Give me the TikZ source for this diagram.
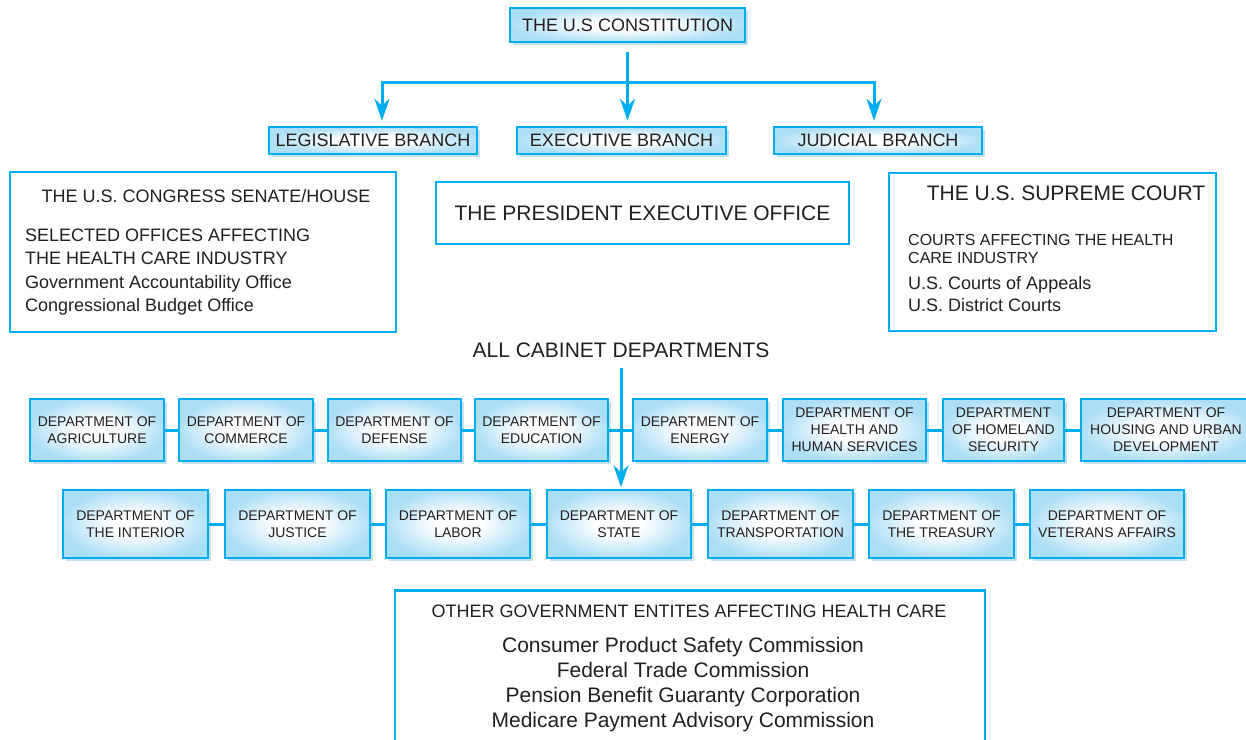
\documentclass[tikz,border=0pt]{standalone}
\usepackage{fontspec}
\setmainfont{Liberation Sans}
\usepackage{tikz}
\usepackage{xcolor}
\usetikzlibrary{arrows.meta,shadows}
\definecolor{govcyan}{RGB}{0,174,239}
\definecolor{govfill}{RGB}{172,222,245}
\definecolor{govshadow}{RGB}{200,224,238}
\definecolor{govtext}{RGB}{35,31,32}
\pgfdeclareradialshading{govglow}{\pgfpoint{0bp}{0bp}}{color(0bp)=(white); color(8bp)=(white); color(26bp)=(govfill); color(40bp)=(govfill)}
\newcommand{\deptsize}{\fontsize{14}{17}\selectfont}
\newcommand{\courtsize}{\fontsize{16}{18}\selectfont}
\newcommand{\midsize}{\fontsize{18}{23}\selectfont}
\newcommand{\bigsize}{\fontsize{21}{25}\selectfont}

\begin{document}
\begin{tikzpicture}[
    x=1pt,y=-1pt,
    text=govtext,
    dept/.style={rectangle,draw=govcyan,line width=2.5pt,shade,shading=govglow,
      drop shadow={shadow xshift=3pt,shadow yshift=-3pt,fill=govshadow,opacity=1},
      minimum height=62pt,inner sep=2pt,align=center,font=\deptsize},
    branch/.style={dept,minimum height=27pt,inner sep=1pt,font=\midsize},
    panel/.style={rectangle,draw=govcyan,line width=2.5pt,fill=white},
    txt/.style={inner sep=0pt,anchor=base west},
    txtc/.style={inner sep=0pt,anchor=base},
    link/.style={draw=govcyan,line width=3pt},
    arrow/.style={link,-{Stealth[length=22pt,width=15pt,inset=7pt]}}
  ]
    \useasboundingbox (0,0) rectangle (1246,739);

    \node[dept,minimum width=235pt,minimum height=34pt,font=\midsize] (const) at (627.5,25) {THE U.S CONSTITUTION};
    \node[branch,minimum width=208pt] (leg) at (373,140.5) {LEGISLATIVE BRANCH};
    \node[branch,minimum width=209pt] (exe) at (621.5,140.5) {EXECUTIVE BRANCH};
    \node[branch,minimum width=208pt] (jud) at (878,140.5) {JUDICIAL BRANCH};
    \coordinate (split) at (627.5,82);

    \node[panel,minimum width=386pt,minimum height=160pt] (congress) at (203,252) {};
    \node[txtc,font=\midsize] (congtitle) at (206,202) {THE U.S. CONGRESS SENATE/HOUSE};
    \node[txt,font=\midsize] (conga) at (25,241) {SELECTED OFFICES AFFECTING};
    \node[txt,font=\midsize] (congb) at (25,264) {THE HEALTH CARE INDUSTRY};
    \node[txt,font=\midsize] (congc) at (25,288) {Government Accountability Office};
    \node[txt,font=\midsize] (congd) at (25,311) {Congressional Budget Office};

    \node[panel,minimum width=413pt,minimum height=62pt,font=\bigsize] (pres) at (642.5,213) {THE PRESIDENT EXECUTIVE OFFICE};

    \node[panel,minimum width=327pt,minimum height=158pt] (court) at (1052.5,252) {};
    \node[txtc,font=\bigsize] (courttitle) at (1066,200) {THE U.S. SUPREME COURT};
    \node[txt,font=\courtsize] (courta) at (908,245) {COURTS AFFECTING THE HEALTH};
    \node[txt,font=\courtsize] (courtb) at (908,263) {CARE INDUSTRY};
    \node[txt,font=\midsize] (courtc) at (908,289) {U.S. Courts of Appeals};
    \node[txt,font=\midsize] (courtd) at (908,311) {U.S. District Courts};

    \node[txtc,font=\bigsize] (cabinet) at (621,357) {ALL CABINET DEPARTMENTS};

    \node[dept,minimum width=134pt] (agri) at (97,430) {DEPARTMENT OF\\AGRICULTURE};
    \node[dept,minimum width=134pt] (comm) at (246,430) {DEPARTMENT OF\\COMMERCE};
    \node[dept,minimum width=133pt] (defense) at (394.5,430) {DEPARTMENT OF\\DEFENSE};
    \node[dept,minimum width=133pt] (edu) at (541.5,430) {DEPARTMENT OF\\EDUCATION};
    \node[dept,minimum width=134pt] (energy) at (700,430) {DEPARTMENT OF\\ENERGY};
    \node[dept,minimum width=143pt] (hhs) at (854.5,430) {DEPARTMENT OF\\HEALTH AND\\HUMAN SERVICES};
    \node[dept,minimum width=121pt] (homeland) at (1003.5,430) {DEPARTMENT\\OF HOMELAND\\SECURITY};
    \node[dept,minimum width=170pt] (housing) at (1166,430) {DEPARTMENT OF\\HOUSING AND URBAN\\DEVELOPMENT};

    \node[dept,minimum width=145pt,minimum height=68pt] (interior) at (135.5,524) {DEPARTMENT OF\\THE INTERIOR};
    \node[dept,minimum width=145pt,minimum height=68pt] (justice) at (297.5,524) {DEPARTMENT OF\\JUSTICE};
    \node[dept,minimum width=144pt,minimum height=68pt] (labor) at (458,524) {DEPARTMENT OF\\LABOR};
    \node[dept,minimum width=144pt,minimum height=68pt] (state) at (619,524) {DEPARTMENT OF\\STATE};
    \node[dept,minimum width=145pt,minimum height=68pt] (transport) at (780.5,524) {DEPARTMENT OF\\TRANSPORTATION};
    \node[dept,minimum width=145pt,minimum height=68pt] (treasury) at (941.5,524) {DEPARTMENT OF\\THE TREASURY};
    \node[dept,minimum width=154pt,minimum height=68pt] (veterans) at (1107,524) {DEPARTMENT OF\\VETERANS AFFAIRS};

    \node[panel,minimum width=590pt,minimum height=160pt,anchor=north] (other) at (690,589) {};
    \node[txtc,font=\midsize] (othertitle) at (689,617) {OTHER GOVERNMENT ENTITES AFFECTING HEALTH CARE};
    \node[txtc,font=\bigsize] (cpsc) at (683,652) {Consumer Product Safety Commission};
    \node[txtc,font=\bigsize] (ftc) at (683,677) {Federal Trade Commission};
    \node[txtc,font=\bigsize] (pbgc) at (683,702) {Pension Benefit Guaranty Corporation};
    \node[txtc,font=\bigsize] (medpac) at (683,727) {Medicare Payment Advisory Commission};

    \draw[link,shorten <=9pt] (const.south) -- (split);
    \draw[arrow,shorten >=5pt] (split) -| ([xshift=9pt]leg.north);
    \draw[arrow,shorten >=5pt] (split) -- (split |- exe.north);
    \draw[arrow,shorten >=5pt] (split) -| ([xshift=-4pt]jud.north);

    \draw[link] (agri) -- (comm) (comm) -- (defense) (defense) -- (edu) (edu) -- (energy)
      (energy) -- (hhs) (hhs) -- (homeland) (homeland) -- (housing);
    \draw[link] (interior) -- (justice) (justice) -- (labor) (labor) -- (state)
      (state) -- (transport) (transport) -- (treasury) (treasury) -- (veterans);
    \draw[arrow,shorten <=11pt,shorten >=1.5pt] (cabinet.south) -- (cabinet.south |- state.north);
  \end{tikzpicture}
\end{document}
